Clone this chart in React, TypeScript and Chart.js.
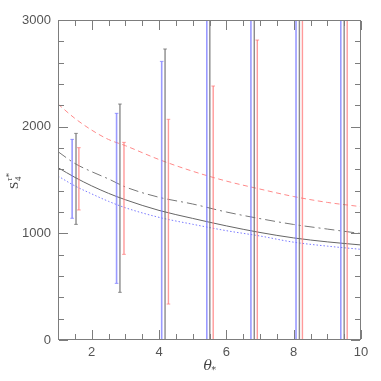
import React, { useEffect, useRef } from "react";
import { Chart, registerables } from "chart.js";
Chart.register(...registerables);

// smooth model curves
const curveX = [1, 1.5, 2, 2.5, 3, 4, 5, 6, 7, 8, 9, 10];
const redDashed = [2212, 2078, 1968, 1880, 1822, 1692, 1582, 1490, 1415, 1345, 1290, 1250];
const grayDashDot = [1766, 1655, 1578, 1510, 1435, 1338, 1275, 1200, 1138, 1083, 1040, 998];
const graySolid = [1616, 1525, 1445, 1375, 1315, 1215, 1140, 1070, 1008, 957, 920, 891];
const blueDotted = [1537, 1445, 1370, 1300, 1240, 1150, 1085, 1025, 975, 917, 880, 850];

// error bars
const blueBarX = [1.42, 2.74, 4.08, 5.42, 6.73, 8.07, 9.4];
const blueLow = [1141, 531, -300, -300, -300, -300, -300];
const blueHigh = [1881, 2125, 2612, 3300, 3300, 3300, 3300];
const blackBarX = [1.535, 2.84, 4.18, 5.51, 6.83, 8.17, 9.5];
const blackLow = [1084, 447, -300, -300, -300, -300, -300];
const blackHigh = [1937, 2212, 2728, 3300, 3300, 3300, 3300];
const redBarX = [1.62, 2.96, 4.28, 5.61, 6.92, 8.26, 9.59];
const redLow = [1219, 803, 337, -300, -300, -300, -300];
const redHigh = [1803, 1853, 2069, 2381, 2812, 3300, 3300];

const xTickLabels = [2, 4, 6, 8, 10];
const yTickLabels = [0, 1000, 2000, 3000];

function barData(xs: number[], lo: number[], hi: number[]) {
  const out: any[] = [];
  xs.forEach((x, i) => {
    out.push({ x, y: lo[i] }, { x, y: hi[i] }, { x, y: null });
  });
  return out;
}

function curve(vals: number[]) {
  return curveX.map((x, i) => ({ x, y: vals[i] }));
}

const axisColor = "#7d7d7d";

const framePlugin = {
  id: "frame",
  afterDraw(chart: any) {
    const { ctx, chartArea: a, scales } = chart;
    const xs = scales.x;
    const ys = scales.y;
    ctx.save();
    ctx.setLineDash([]);
    ctx.globalAlpha = 1;
    ctx.fillStyle = axisColor;
    const L = Math.round(a.left);
    const R = Math.round(a.right) - 1;
    const T = Math.round(a.top);
    const B = Math.round(a.bottom) - 1;
    // frame
    ctx.fillRect(L, T, R - L + 1, 1);
    ctx.fillRect(L, B, R - L + 1, 1);
    ctx.fillRect(L, T, 1, B - T + 1);
    ctx.fillRect(R, T, 1, B - T + 1);
    // x ticks (inward, top and bottom)
    for (let k = 0; k <= 18; k++) {
      const v = 1 + k * 0.5;
      const px = Math.round(xs.getPixelForValue(v));
      const len = k % 4 === 2 ? 9 : 5;
      ctx.fillRect(px, B - len, 1, len);
      ctx.fillRect(px, T + 1, 1, len);
    }
    // y ticks (inward, left and right)
    for (let k = 0; k <= 15; k++) {
      const v = k * 200;
      const py = Math.round(ys.getPixelForValue(v));
      const len = k % 5 === 0 ? 9 : 5;
      ctx.fillRect(L + 1, py, len, 1);
      ctx.fillRect(R - len, py, len, 1);
    }

    // x title
    ctx.fillStyle = "#444";
    ctx.textBaseline = "alphabetic";
    ctx.font = 'italic 14px "DejaVu Serif"';
    ctx.textAlign = "left";
    const cx = (a.left + a.right) / 2;
    ctx.fillText("θ", cx - 6, 370);
    ctx.font = '9px "DejaVu Serif"';
    ctx.fillText("*", cx + 2, 373);

    // y title
    ctx.translate(14, 181);
    ctx.rotate(-Math.PI / 2);
    ctx.font = '13px "Liberation Serif"';
    ctx.fillText("S", -8, 4);
    ctx.font = 'italic 9px "Liberation Serif"';
    ctx.fillText("τ*", 0, -2);
    ctx.font = '9px "Liberation Serif"';
    ctx.fillText("4", 0, 7);
    ctx.restore();
  },
};

export default function App() {
  const ref = useRef<HTMLCanvasElement | null>(null);
  useEffect(() => {
    if (!ref.current) return;
    const errStyle = (color: string, w: number) => ({
      type: "line" as const,
      showLine: true,
      spanGaps: false,
      borderColor: color,
      backgroundColor: color,
      borderWidth: w,
      pointStyle: "line",
      pointRadius: 1.8,
      pointBorderWidth: 1,
      pointBorderColor: color,
      pointHoverRadius: 0,
      clip: 0,
    });
    const chart = new Chart(ref.current, {
      type: "scatter",
      data: {
        datasets: [
          { ...errStyle("rgba(120,120,255,0.75)", 1.6), data: barData(blueBarX, blueLow, blueHigh) },
          { ...errStyle("rgba(110,110,110,0.8)", 1.4), data: barData(blackBarX, blackLow, blackHigh) },
          { ...errStyle("rgba(255,120,120,0.75)", 1.4), data: barData(redBarX, redLow, redHigh) },
          {
            type: "line", data: curve(redDashed), borderColor: "#ff8a8a", borderWidth: 1,
            borderDash: [5, 3.5], pointRadius: 0, cubicInterpolationMode: "monotone", showLine: true, clip: 0,
          },
          {
            type: "line", data: curve(grayDashDot), borderColor: "#777", borderWidth: 1,
            borderDash: [10, 4, 2, 4], pointRadius: 0, cubicInterpolationMode: "monotone", showLine: true, clip: 0,
          },
          {
            type: "line", data: curve(graySolid), borderColor: "#666", borderWidth: 1,
            pointRadius: 0, cubicInterpolationMode: "monotone", showLine: true, clip: 0,
          },
          {
            type: "line", data: curve(blueDotted), borderColor: "#7a7aff", borderWidth: 1,
            borderDash: [1.5, 2], pointRadius: 0, cubicInterpolationMode: "monotone", showLine: true, clip: 0,
          },
        ] as any,
      },
      options: {
        animation: false,
        responsive: false,
        devicePixelRatio: 1,
        events: [],
        layout: { padding: { top: 20, right: 20, left: 0, bottom: 0 } },
        plugins: { legend: { display: false }, tooltip: { enabled: false } },
        scales: {
          x: {
            type: "linear",
            min: 1,
            max: 10,
            grid: { display: false, drawTicks: false },
            border: { display: false },
            afterBuildTicks: (s: any) => {
              s.ticks = xTickLabels.map((v) => ({ value: v }));
            },
            afterFit: (s: any) => {
              s.height = 41;
            },
            ticks: {
              padding: 5,
              color: "#555",
              font: { family: '"Liberation Sans"', size: 13 },
              maxRotation: 0,
              autoSkip: false,
              callback: (v: any) => String(v),
            },
          },
          y: {
            type: "linear",
            min: 0,
            max: 3000,
            grid: { display: false, drawTicks: false },
            border: { display: false },
            afterBuildTicks: (s: any) => {
              s.ticks = yTickLabels.map((v) => ({ value: v }));
            },
            afterFit: (s: any) => {
              s.width = 58;
            },
            ticks: {
              padding: 7,
              color: "#555",
              font: { family: '"Liberation Sans"', size: 13 },
              autoSkip: false,
              callback: (v: any) => String(v),
            },
          },
        },
      } as any,
      plugins: [framePlugin],
    });
    return () => chart.destroy();
  }, []);
  return (
    <div style={{ position: "fixed", left: 0, top: 0, width: 381, height: 381, background: "#fff" }}>
      <canvas ref={ref} width={381} height={381} />
    </div>
  );
}
